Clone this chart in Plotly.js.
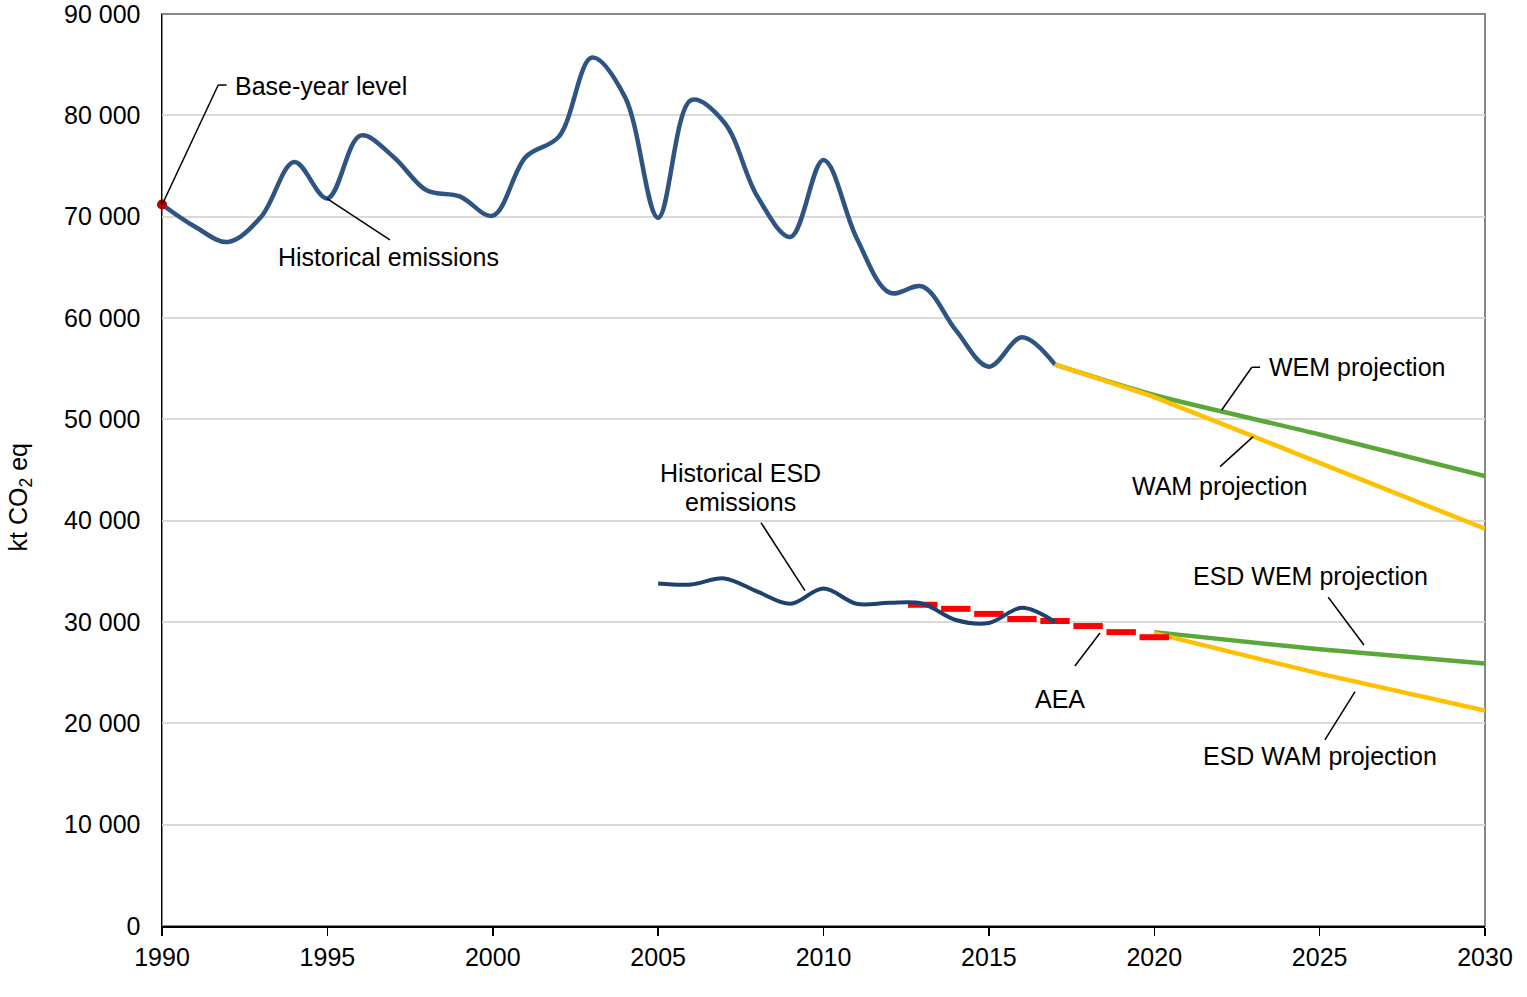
<!DOCTYPE html>
<html>
<head>
<meta charset="utf-8">
<script src="https://cdn.plot.ly/plotly-3.0.1.min.js"></script>
<style>html,body{margin:0;padding:0;background:#fff;}#chart{width:1527px;height:997px;}</style>
</head>
<body>
<div id="chart"></div>
<script>
// ---- data ----
var histYears = [1990,1991,1992,1993,1994,1995,1996,1997,1998,1999,2000,2001,2002,2003,2004,2005,2006,2007,2008,2009,2010,2011,2012,2013,2014,2015,2016,2017];
var histEmissions = [71200,69000,67500,70000,75400,71800,78000,75900,72600,72000,70100,75900,77900,85700,81800,69900,81500,79300,72000,68000,75600,67900,62500,63100,58800,55200,58100,55400];

var projYears = [2017,2020,2025,2030];
var wemProjection = [55400,52400,48500,44400];
var wamProjection = [55400,52200,45700,39200];

var esdYears = [2005,2006,2007,2008,2009,2010,2011,2012,2013,2014,2015,2016,2017];
var esdEmissions = [33800,33700,34300,33000,31800,33300,31800,31900,31800,30200,29900,31400,30000];

var aeaYears = [2013,2014,2015,2016,2017,2018,2019,2020];
var aeaValues = [31700,31300,30800,30300,30100,29600,29000,28500];

var esdProjYears = [2020,2025,2030];
var esdWemProjection = [29000,27300,25900];
var esdWamProjection = [28900,24900,21250];

var baseYear = [1990];
var baseYearLevel = [71200];

var yTickVals = [0,10000,20000,30000,40000,50000,60000,70000,80000,90000];
var xTickVals = [1990,1995,2000,2005,2010,2015,2020,2025,2030];

// ---- traces ----
var FONT = '"Liberation Sans", Arial, sans-serif';
var FS = 25;
var traces = [
  {x: histYears, y: histEmissions, type:'scatter', mode:'lines', line:{color:'#2E5481', width:4.5, shape:'spline', smoothing:1}},
  {x: projYears, y: wemProjection, type:'scatter', mode:'lines', line:{color:'#5AA83A', width:4.5, shape:'spline', smoothing:0.6}},
  {x: projYears, y: wamProjection, type:'scatter', mode:'lines', line:{color:'#FFC000', width:4.5, shape:'spline', smoothing:0.3}},
  {x: esdProjYears, y: esdWemProjection, type:'scatter', mode:'lines', line:{color:'#5AA83A', width:4.5, shape:'spline', smoothing:0.6}},
  {x: esdProjYears, y: esdWamProjection, type:'scatter', mode:'lines', line:{color:'#FFC000', width:4.5, shape:'spline', smoothing:0.6}},
  {x: aeaYears, y: aeaValues, type:'scatter', mode:'markers', marker:{symbol:'line-ew', size:21, color:'#FF0000', line:{color:'#FF0000', width:6}}},
  {x: esdYears, y: esdEmissions, type:'scatter', mode:'lines', line:{color:'#1F416D', width:4, shape:'spline', smoothing:1}},
  {x: baseYear, y: baseYearLevel, type:'scatter', mode:'markers', cliponaxis:false, marker:{color:'#C00000', size:10}}
];

function seg(x0,y0,x1,y1){
  return {type:'line', xref:'x', yref:'y', x0:x0, y0:y0, x1:x1, y1:y1, line:{color:'#000000', width:1.5}, layer:'above'};
}
function lab(x,y,t,anchor){
  return {x:x, y:y, xref:'x', yref:'y', text:t, showarrow:false, xanchor:anchor||'center', yanchor:'middle', font:{family:FONT, size:FS, color:'#000'}};
}

var layout = {
  width:1527, height:997,
  margin:{l:162, r:42, t:14, b:71},
  paper_bgcolor:'#ffffff', plot_bgcolor:'#ffffff',
  showlegend:false,
  separators:'. ',
  font:{family:FONT, size:FS, color:'#000'},
  xaxis:{range:[1990,2030], tickvals:xTickVals, tickformat:'d', showgrid:false, zeroline:false,
         showline:true, linecolor:'#000', linewidth:2, ticks:'outside', ticklen:8, tickwidth:1.5, tickcolor:'#000',
         ticklabeloverflow:'allow', tickfont:{family:FONT, size:FS, color:'#000'}},
  yaxis:{range:[0,90000], tickvals:yTickVals, tickformat:',d', showgrid:true, gridcolor:'#D9D9D9', gridwidth:2,
         zeroline:false, showline:true, linecolor:'#000', linewidth:1.5, ticks:'outside', ticklen:15, tickcolor:'rgba(0,0,0,0)',
         ticklabeloverflow:'allow', tickfont:{family:FONT, size:FS, color:'#000'}},
  shapes:[
    {type:'rect', xref:'paper', yref:'paper', x0:0, y0:0, x1:1, y1:1, line:{color:'#878787', width:2}, layer:'below'},
    seg(1990,71150,1991.70,82990), seg(1991.70,82990,1991.95,82990),
    seg(1994.98,71815,1996.89,67700),
    seg(2008.11,39800,2009.44,33090),
    seg(2018.36,28915,2017.60,25660),
    seg(2022.04,50920,2022.95,55140), seg(2022.95,55140,2023.20,55140),
    seg(2022.99,48290,2021.99,45330),
    seg(2025.26,32440,2026.34,27730),
    seg(2026.07,23120,2025.16,18360)
  ],
  annotations:[
    lab(1992.15,82900,'Base-year level','left'),
    lab(1996.86,66020,'Historical emissions'),
    lab(2007.48,44705,'Historical ESD'),
    lab(2007.48,41843,'emissions'),
    lab(2017.15,22400,'AEA'),
    lab(2023.41,55170,'WEM projection','left'),
    lab(2021.99,43420,'WAM projection'),
    lab(2024.71,34540,'ESD WEM projection'),
    lab(2025.01,16780,'ESD WAM projection'),
    {xref:'paper', yref:'paper', x:-0.1073, y:0.470, text:'kt CO<sub>2</sub> eq', textangle:-90, showarrow:false,
     xanchor:'center', yanchor:'middle', font:{family:FONT, size:FS, color:'#000'}}
  ]
};

Plotly.newPlot('chart', traces, layout, {displayModeBar:false, staticPlot:true});
</script>
</body>
</html>
